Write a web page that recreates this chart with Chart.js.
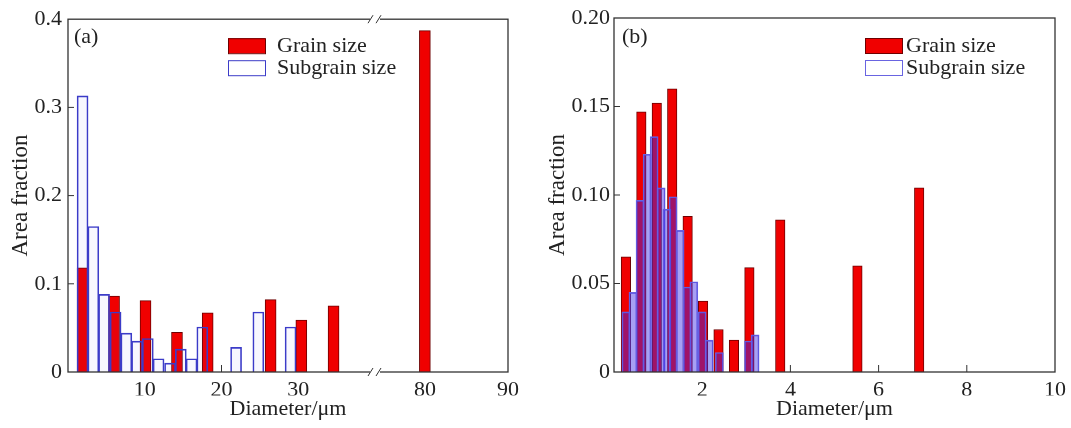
<!DOCTYPE html>
<html>
<head>
<meta charset="utf-8">
<script src="https://cdn.jsdelivr.net/npm/chart.js@4.4.1/dist/chart.umd.min.js"></script>
<style>
  body { margin: 0; background: #fff; }
  #wrap { position: relative; width: 1071px; height: 428px; }
  .box { position: absolute; top: 0; height: 428px; }
</style>
</head>
<body>
<div id="wrap">
  <div class="box" style="left:0;width:536px"><canvas id="chart-a"></canvas></div>
  <div class="box" style="left:536px;width:535px"><canvas id="chart-b"></canvas></div>
</div>
<script>
// panel (a)
const grainXa = [1.9, 6.0, 10.1, 14.2, 18.2, 26.4, 30.4, 34.6];
const grainYa = [0.118, 0.086, 0.081, 0.045, 0.067, 0.082, 0.059, 0.075];
const grainFarXa = [80];
const grainFarYa = [0.387];
const subXa = [1.9, 3.3, 4.7, 6.2, 7.6, 9.0, 10.4, 11.8, 13.3, 14.7, 16.1, 17.5, 21.9, 24.8, 29.0];
const subYa = [0.313, 0.165, 0.088, 0.068, 0.044, 0.035, 0.038, 0.015, 0.010, 0.026, 0.015, 0.051, 0.028, 0.068, 0.051];
const yTicksA = [0, 0.1, 0.2, 0.3, 0.4];
const xTicksA = [10, 20, 30];
const xTicksFarA = [80, 90];

// panel (b)
const grainXb = [0.27, 0.62, 0.97, 1.32, 1.67, 2.02, 2.37, 2.72, 3.07, 3.77, 5.52, 6.92];
const grainYb = [0.065, 0.147, 0.152, 0.160, 0.088, 0.040, 0.024, 0.018, 0.059, 0.086, 0.060, 0.104];
const subXb = [0.27, 0.43, 0.59, 0.75, 0.91, 1.07, 1.20, 1.34, 1.50, 1.66, 1.81, 2.0, 2.16, 2.39, 3.05, 3.2];
const subYb = [0.034, 0.045, 0.097, 0.123, 0.133, 0.104, 0.092, 0.099, 0.080, 0.048, 0.051, 0.034, 0.018, 0.011, 0.0175, 0.021];
const yTicksB = [0, 0.05, 0.10, 0.15, 0.20];
const xTicksB = [0, 2, 4, 6, 8, 10];

const FONT = "'Liberation Serif', 'Times New Roman', serif";
const INK = '#222';

function pts(xs, ys) {
  return xs.map((x, i) => ({ x: x, y: ys[i] }));
}

// inward ticks, frame, axis break, panel tag and legend
const panelDecor = {
  id: 'panelDecor',
  beforeDatasetsDraw(chart) {
    const { ctx, chartArea: a } = chart;
    ctx.save();
    ctx.strokeStyle = '#333';
    ctx.lineWidth = 1;
    Object.values(chart.scales).forEach(s => {
      s.ticks.forEach(t => {
        const p = s.getPixelForValue(t.value);
        ctx.beginPath();
        if (s.axis === 'x') {
          if (p <= a.left + 1 || p >= a.right - 1) return;
          ctx.moveTo(p, a.bottom);
          ctx.lineTo(p, a.bottom - 7);
        } else {
          if (p <= a.top + 1 || p >= a.bottom - 1) return;
          ctx.moveTo(a.left, p);
          ctx.lineTo(a.left + 6, p);
        }
        ctx.stroke();
      });
    });
    ctx.restore();
  },
  afterDatasetsDraw(chart, args, o) {
    const { ctx, chartArea: a } = chart;
    ctx.save();
    ctx.strokeStyle = '#333';
    ctx.lineWidth = 1.3;
    ctx.strokeRect(a.left, a.top, a.width, a.height);

    if (o.breakAt) {
      const bx = chart.scales[o.breakAt].left;
      [a.top, a.bottom].forEach(y => {
        ctx.fillStyle = '#fff';
        ctx.fillRect(bx - 5, y - 2, 10, 4);
        ctx.lineWidth = 1;
        ctx.beginPath();
        ctx.moveTo(bx - 7, y + 4); ctx.lineTo(bx - 2, y - 4);
        ctx.moveTo(bx + 1, y + 4); ctx.lineTo(bx + 6, y - 4);
        ctx.stroke();
      });
    }

    ctx.fillStyle = INK;
    ctx.font = '22px ' + FONT;
    ctx.textBaseline = 'middle';
    ctx.textAlign = 'left';
    ctx.fillText(o.tag, a.left + o.tagX, a.top + o.tagY);

    const seen = [];
    chart.data.datasets.forEach(ds => {
      if (seen.indexOf(ds.label) >= 0) return;
      seen.push(ds.label);
    });
    const L = o.legend;
    seen.forEach((label, i) => {
      const ds = chart.data.datasets.find(d => d.label === label);
      const bx = a.left + L.x;
      const by = a.top + L.y + i * L.rowH;
      ctx.fillStyle = ds.legendFill;
      ctx.fillRect(bx, by, L.boxW, L.boxH);
      ctx.strokeStyle = ds.borderColor;
      ctx.lineWidth = 1;
      ctx.strokeRect(bx + 0.5, by + 0.5, L.boxW, L.boxH);
      ctx.fillStyle = INK;
      ctx.fillText(label, bx + L.boxW + L.gap, by + L.boxH / 2 + 1);
    });
    ctx.restore();
  }
};

const tickFont = { family: FONT, size: 22 };

// ---- chart (a) ----
new Chart(document.getElementById('chart-a').getContext('2d'), {
  type: 'bar',
  data: {
    datasets: [{
      label: 'Grain size',
      data: pts(grainXa, grainYa),
      xAxisID: 'x',
      backgroundColor: 'rgb(240, 0, 0)',
      borderColor: 'rgb(110, 0, 0)',
      legendFill: 'rgb(240, 0, 0)',
      borderWidth: 1,
      barThickness: 11,
      order: 1
    }, {
      label: 'Grain size',
      data: pts(grainFarXa, grainFarYa),
      xAxisID: 'xFar',
      backgroundColor: 'rgb(240, 0, 0)',
      borderColor: 'rgb(110, 0, 0)',
      legendFill: 'rgb(240, 0, 0)',
      borderWidth: 1,
      barThickness: 11,
      order: 1
    }, {
      label: 'Subgrain size',
      data: pts(subXa, subYa),
      xAxisID: 'x',
      backgroundColor: 'rgba(60, 60, 220, 0.04)',
      borderColor: 'rgb(60, 60, 200)',
      legendFill: '#fff',
      borderWidth: 1,
      barThickness: 11,
      order: 0
    }]
  },
  options: {
    responsive: true,
    maintainAspectRatio: false,
    animation: false,
    layout: { padding: { top: 18, right: 28, left: 0, bottom: 0 } },
    datasets: { bar: { grouped: false, borderSkipped: 'start' } },
    scales: {
      x: {
        type: 'linear', min: 0, max: 40, offset: false,
        stack: 'brk', stackWeight: 307,
        grid: { display: false, drawTicks: false },
        border: { display: false },
        afterBuildTicks: s => { s.ticks = xTicksA.map(v => ({ value: v })); },
        afterFit: s => { s.height = 23.6; },
        ticks: { font: tickFont, color: INK, padding: 5, maxRotation: 0 }
      },
      xFar: {
        type: 'linear', position: 'bottom', min: 74, max: 90, offset: false,
        stack: 'brk', stackWeight: 133,
        grid: { display: false, drawTicks: false },
        border: { display: false },
        afterBuildTicks: s => { s.ticks = xTicksFarA.map(v => ({ value: v })); },
        afterFit: s => { s.height = 23.6; },
        ticks: { font: tickFont, color: INK, padding: 5, maxRotation: 0 }
      },
      y: {
        min: 0, max: 0.4,
        grid: { display: false, drawTicks: false },
        border: { display: false },
        afterBuildTicks: s => { s.ticks = yTicksA.map(v => ({ value: v })); },
        afterFit: s => { s.width = 68; },
        ticks: {
          font: tickFont, color: INK, padding: 6,
          callback: v => (v === 0 ? '0' : v.toFixed(1))
        },
        title: { display: true, text: 'Area fraction', font: { family: FONT, size: 23 }, color: INK, padding: { top: 7, bottom: 0 } }
      }
    },
    plugins: {
      legend: { display: false },
      tooltip: { enabled: false },
      title: {
        display: true, position: 'bottom', fullSize: false,
        text: 'Diameter/μm', color: INK,
        font: { family: FONT, size: 22, weight: 'normal' },
        padding: { top: 0, bottom: 6 }
      },
      panelDecor: {
        tag: '(a)', tagX: 6, tagY: 18, breakAt: 'xFar',
        legend: { x: 160, y: 19, rowH: 22, boxW: 37, boxH: 15, gap: 12 }
      }
    }
  },
  plugins: [panelDecor]
});

// ---- chart (b) ----
new Chart(document.getElementById('chart-b').getContext('2d'), {
  type: 'bar',
  data: {
    datasets: [{
      label: 'Grain size',
      data: pts(grainXb, grainYb),
      backgroundColor: 'rgb(240, 0, 0)',
      borderColor: 'rgb(110, 0, 0)',
      legendFill: 'rgb(240, 0, 0)',
      borderWidth: 1,
      barThickness: 9.5,
      order: 1
    }, {
      label: 'Subgrain size',
      data: pts(subXb, subYb),
      backgroundColor: 'rgba(60, 45, 230, 0.45)',
      borderColor: 'rgb(105, 100, 225)',
      legendFill: '#fff',
      borderWidth: 1,
      barThickness: 8,
      order: 0
    }]
  },
  options: {
    responsive: true,
    maintainAspectRatio: false,
    animation: false,
    layout: { padding: { top: 18, right: 15, left: 0, bottom: 0 } },
    datasets: { bar: { grouped: false, borderSkipped: 'start' } },
    scales: {
      x: {
        type: 'linear', min: 0, max: 10, offset: false,
        grid: { display: false, drawTicks: false },
        border: { display: false },
        afterBuildTicks: s => { s.ticks = xTicksB.map(v => ({ value: v })); },
        afterFit: s => { s.height = 23.6; },
        ticks: {
          font: tickFont, color: INK, padding: 5, maxRotation: 0,
          callback: v => (v === 0 ? '' : String(v))
        }
      },
      y: {
        min: 0, max: 0.2,
        grid: { display: false, drawTicks: false },
        border: { display: false },
        afterBuildTicks: s => { s.ticks = yTicksB.map(v => ({ value: v })); },
        afterFit: s => { s.width = 78; },
        ticks: {
          font: tickFont, color: INK, padding: 4,
          callback: v => (v === 0 ? '0' : v.toFixed(2))
        },
        title: { display: true, text: 'Area fraction', font: { family: FONT, size: 23 }, color: INK, padding: { top: 8, bottom: 0 } }
      }
    },
    plugins: {
      legend: { display: false },
      tooltip: { enabled: false },
      title: {
        display: true, position: 'bottom', fullSize: false,
        text: 'Diameter/μm', color: INK,
        font: { family: FONT, size: 22, weight: 'normal' },
        padding: { top: 0, bottom: 6 }
      },
      panelDecor: {
        tag: '(b)', tagX: 8, tagY: 19,
        legend: { x: 251, y: 20, rowH: 22, boxW: 37, boxH: 15, gap: 4 }
      }
    }
  },
  plugins: [panelDecor]
});
</script>
</body>
</html>
